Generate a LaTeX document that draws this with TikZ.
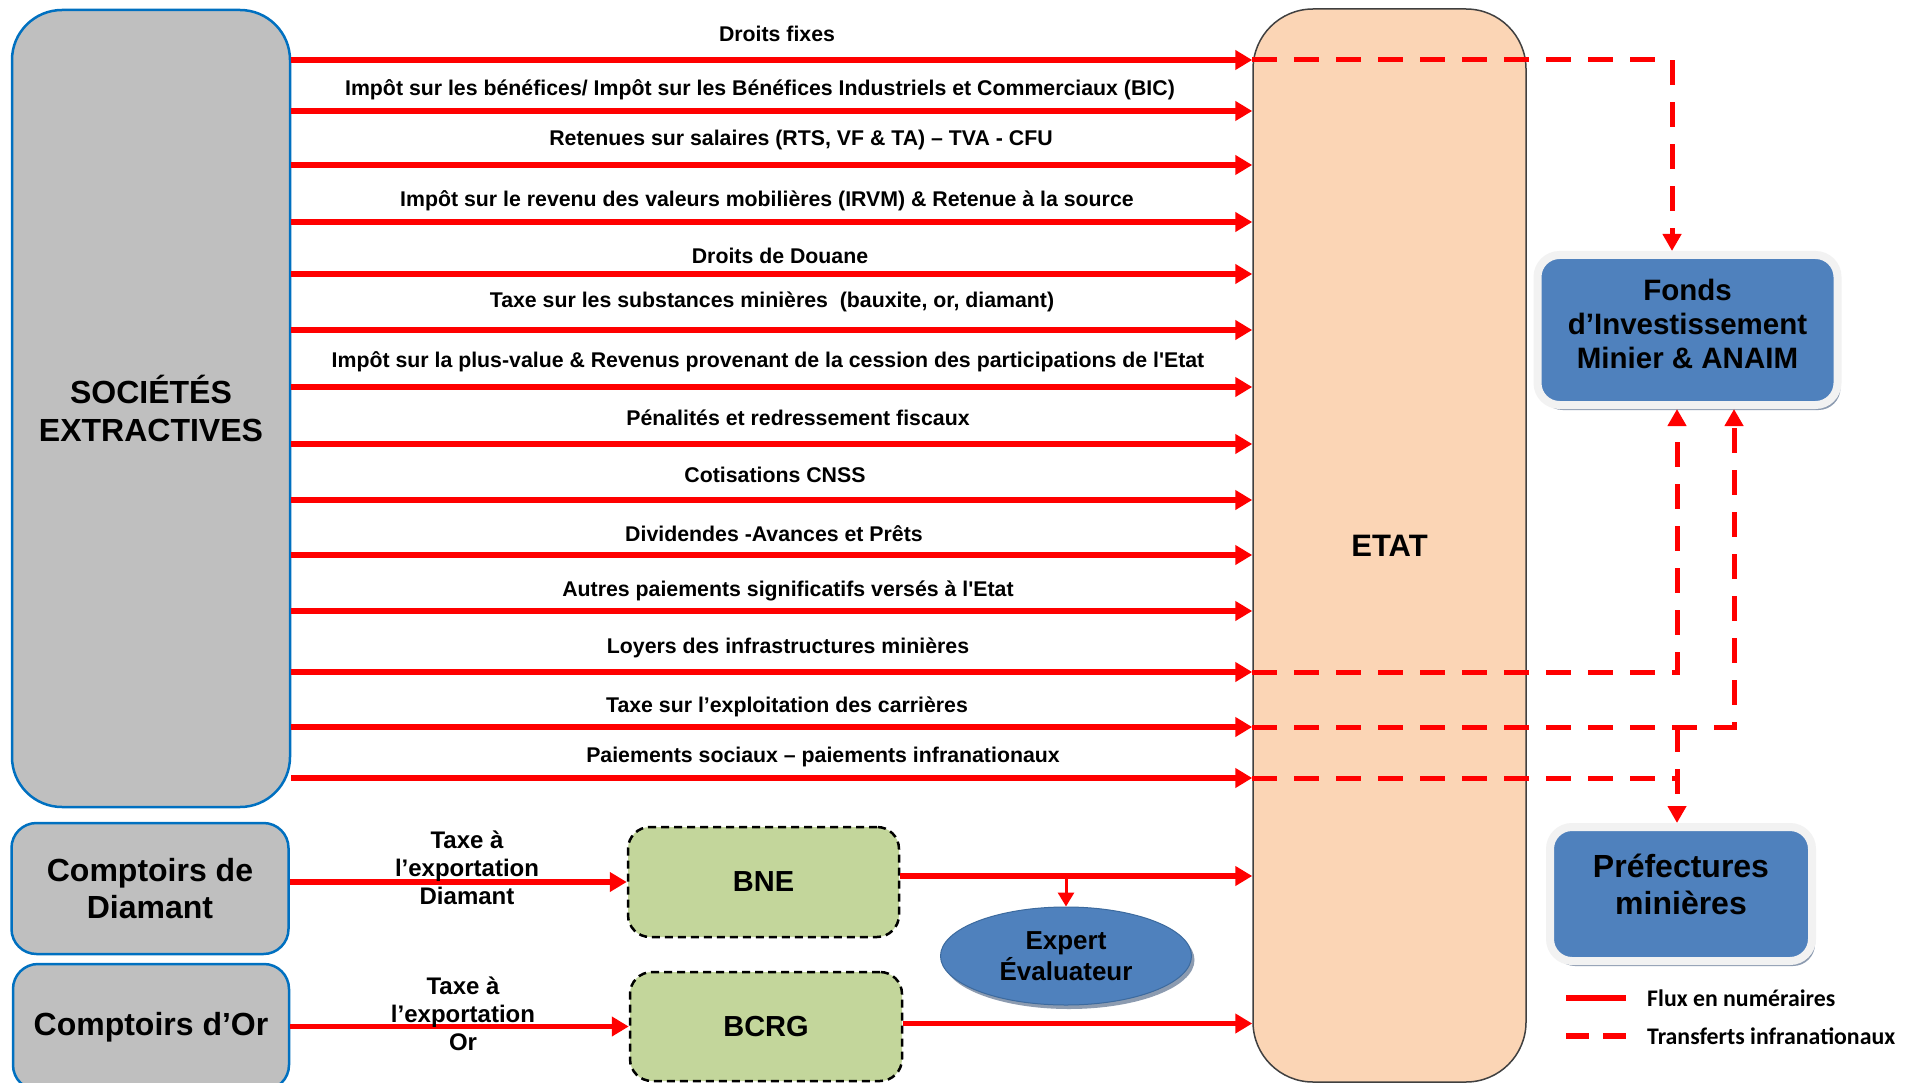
\documentclass[tikz,border=0pt]{standalone}
\usepackage{fontspec}
\setmainfont{Liberation Sans}[Ligatures=TeXOff]
\newfontfamily\legfont{Carlito}
\usetikzlibrary{arrows.meta,shapes.geometric,shadows}
\definecolor{socfill}{HTML}{BFBFBF}
\definecolor{socblue}{HTML}{0070C0}
\definecolor{etatfill}{HTML}{FBD5B5}
\definecolor{etatb}{HTML}{404040}
\definecolor{ablue}{HTML}{4F81BD}
\definecolor{expb}{HTML}{3C6A9E}
\definecolor{agreen}{HTML}{C3D69B}
\definecolor{shadowc}{HTML}{8C9BB0}
\definecolor{rimc}{HTML}{F2F2F2}
\newcommand\myfs[2]{\fontsize{#1}{#2}\selectfont\bfseries}
\newcommand\legf{\legfont\fontsize{23.8}{28}\selectfont\bfseries}
\begin{document}
\begin{tikzpicture}[x=1pt,y=-1pt,
 flow/.style={draw=red,line width=5.5pt,-{Triangle[length=17pt,width=19pt]}},
 dflow/.style={draw=red,line width=5pt,dash pattern=on 25pt off 17pt},
 dtip/.style={-{Triangle[length=17pt,width=18pt]}},
 lbl/.style={font=\myfs{21.3}{25},inner sep=0pt},
 grayb/.style={draw=socblue,line width=2.5pt,fill=socfill,align=center},
 blueb/.style={draw=rimc,line width=8pt,fill=ablue,rounded corners=22pt,
   drop shadow={shadow xshift=3pt,shadow yshift=-5pt,fill=shadowc,opacity=1}},
 greenb/.style={draw=black,line width=2.5pt,dash pattern=on 8pt off 5pt,fill=agreen,rounded corners=22pt},
]
\fill[white] (0,0) rectangle (1921,1083);
\useasboundingbox (0,0) rectangle (1921,1083);

% main boxes
\node[grayb,rounded corners=50pt,minimum width=278pt,minimum height=797pt,font=\myfs{32}{38}] (soc) at (151,408.5) {SOCIÉTÉS\\EXTRACTIVES};
\node[draw=etatb,line width=1.5pt,fill=etatfill,rounded corners=60pt,minimum width=273pt,minimum height=1073pt,font=\myfs{31}{36}] (etat) at (1389.5,545.5) {ETAT};
\node[grayb,rounded corners=25pt,minimum width=277pt,minimum height=131pt,font=\myfs{32}{37}] (diam) at (150,888.5) {Comptoirs de\\Diamant};
\node[grayb,rounded corners=25pt,minimum width=276pt,minimum height=126pt,font=\myfs{32}{37}] (or) at (151,1027) {Comptoirs d’Or};
\node[greenb,minimum width=271pt,minimum height=110pt,font=\myfs{29}{34}] (bne) at (763.5,882) {BNE};
\node[greenb,minimum width=272pt,minimum height=109pt,font=\myfs{29}{34}] (bcrg) at (766,1026.5) {BCRG};
\node[blueb,minimum width=300pt,minimum height=150pt,
  label={[font=\myfs{29.5}{34},align=center,yshift=6pt]center:{Fonds\\d’Investissement\\Minier \& ANAIM}}] (fonds) at (1687.5,330) {};
\node[blueb,minimum width=262pt,minimum height=134pt,
  label={[font=\myfs{32}{37},align=center,yshift=10pt]center:{Préfectures\\minières}}] (pref) at (1681,894) {};
\node[ellipse,draw=expb,line width=1pt,fill=ablue,minimum width=251pt,minimum height=98pt,inner sep=0pt,
  font=\myfs{26}{31},align=center,
  drop shadow={shadow xshift=3pt,shadow yshift=-4pt,fill=shadowc,opacity=1}] (exp) at (1066,956) {Expert\\Évaluateur};

% payment flows
\foreach \yy in {60,111,165,222,274,330,387,444,500,555,611,672,727,778}
  \draw[flow] (soc.east |- 0,\yy) -- (etat.west |- 0,\yy);

\node[lbl] (l1) at (777,34) {Droits fixes};
\node[lbl] (l2) at (760,90) {Impôt sur les bénéfices/ Impôt sur les Bénéfices Industriels et Commerciaux (BIC)};
\node[lbl] (l3) at (801,140) {Retenues sur salaires (RTS, VF \& TA) – TVA - CFU};
\node[lbl] (l4) at (767,201) {Impôt sur le revenu des valeurs mobilières (IRVM) \& Retenue à la source};
\node[lbl] (l5) at (780,256) {Droits de Douane};
\node[lbl] (l6) at (772,302) {Taxe sur les substances minières~ (bauxite, or, diamant)};
\node[lbl] (l7) at (768,362) {Impôt sur la plus-value \& Revenus provenant de la cession des participations de l'Etat};
\node[lbl] (l8) at (798,418) {Pénalités et redressement fiscaux};
\node[lbl] (l9) at (775,475) {Cotisations CNSS};
\node[lbl] (l10) at (774,534) {Dividendes -Avances et Prêts};
\node[lbl] (l11) at (788,591) {Autres paiements significatifs versés à l'Etat};
\node[lbl] (l12) at (788,648) {Loyers des infrastructures minières};
\node[lbl] (l13) at (787,707) {Taxe sur l’exploitation des carrières};
\node[lbl] (l14) at (823,757) {Paiements sociaux – paiements infranationaux};

% lower flows
\draw[flow] (diam.east |- bne.west) -- (bne.west);
\draw[flow] (or.east |- bcrg.west) -- (bcrg.west);
\coordinate (b1) at ([yshift=6pt]bne.east);
\draw[flow] (b1) -- (etat.west |- b1);
\coordinate (b2) at ([yshift=3pt]bcrg.east);
\draw[flow] (b2) -- (etat.west |- b2);
\coordinate (tap) at (exp.north |- b1);
\draw[red,line width=3pt,-{Triangle[length=14pt,width=16pt]}] (tap) -- (exp.north);

\node[font=\myfs{24}{28},align=center,inner sep=0pt] (t1) at (467,868) {Taxe à\\l’exportation\\Diamant};
\node[font=\myfs{24}{28},align=center,inner sep=0pt] (t2) at (463,1014) {Taxe à\\l’exportation\\Or};

% sub-national transfers
\coordinate (k1) at (1672,60);
\draw[dflow,dtip] (etat.west |- k1) -- (k1) -- (k1 |- fonds.north);
\coordinate (k2) at (1677,672);
\draw[dflow,dtip] (etat.west |- k2) -- (k2) -- (k2 |- fonds.south);
\coordinate (k3) at (1734,727);
\draw[dflow,dtip] (etat.west |- k3) -- (k3) -- (k3 |- fonds.south);
\coordinate (k4) at (1677,778);
\draw[dflow] (etat.west |- k4) -- (k4);
\coordinate (k5) at (1677,727);
\draw[dflow,dtip] (k5) -- (k5 |- pref.north);

% legend
\coordinate (lg1) at (1566,998);
\coordinate (lg1e) at (1626,998);
\draw[red,line width=5.5pt] (lg1) -- (lg1e);
\node[anchor=west,font=\legf,inner sep=0pt] (lt1) at (1647,998) {Flux en numéraires};
\coordinate (lg2) at (1566,1036);
\coordinate (lg2e) at (1626,1036);
\draw[red,line width=5.5pt,dash pattern=on 23pt off 14pt] (lg2) -- (lg2e);
\node[anchor=west,font=\legf,inner sep=0pt] (lt2) at (1647,1036) {Transferts infranationaux};
\end{tikzpicture}
\end{document}
